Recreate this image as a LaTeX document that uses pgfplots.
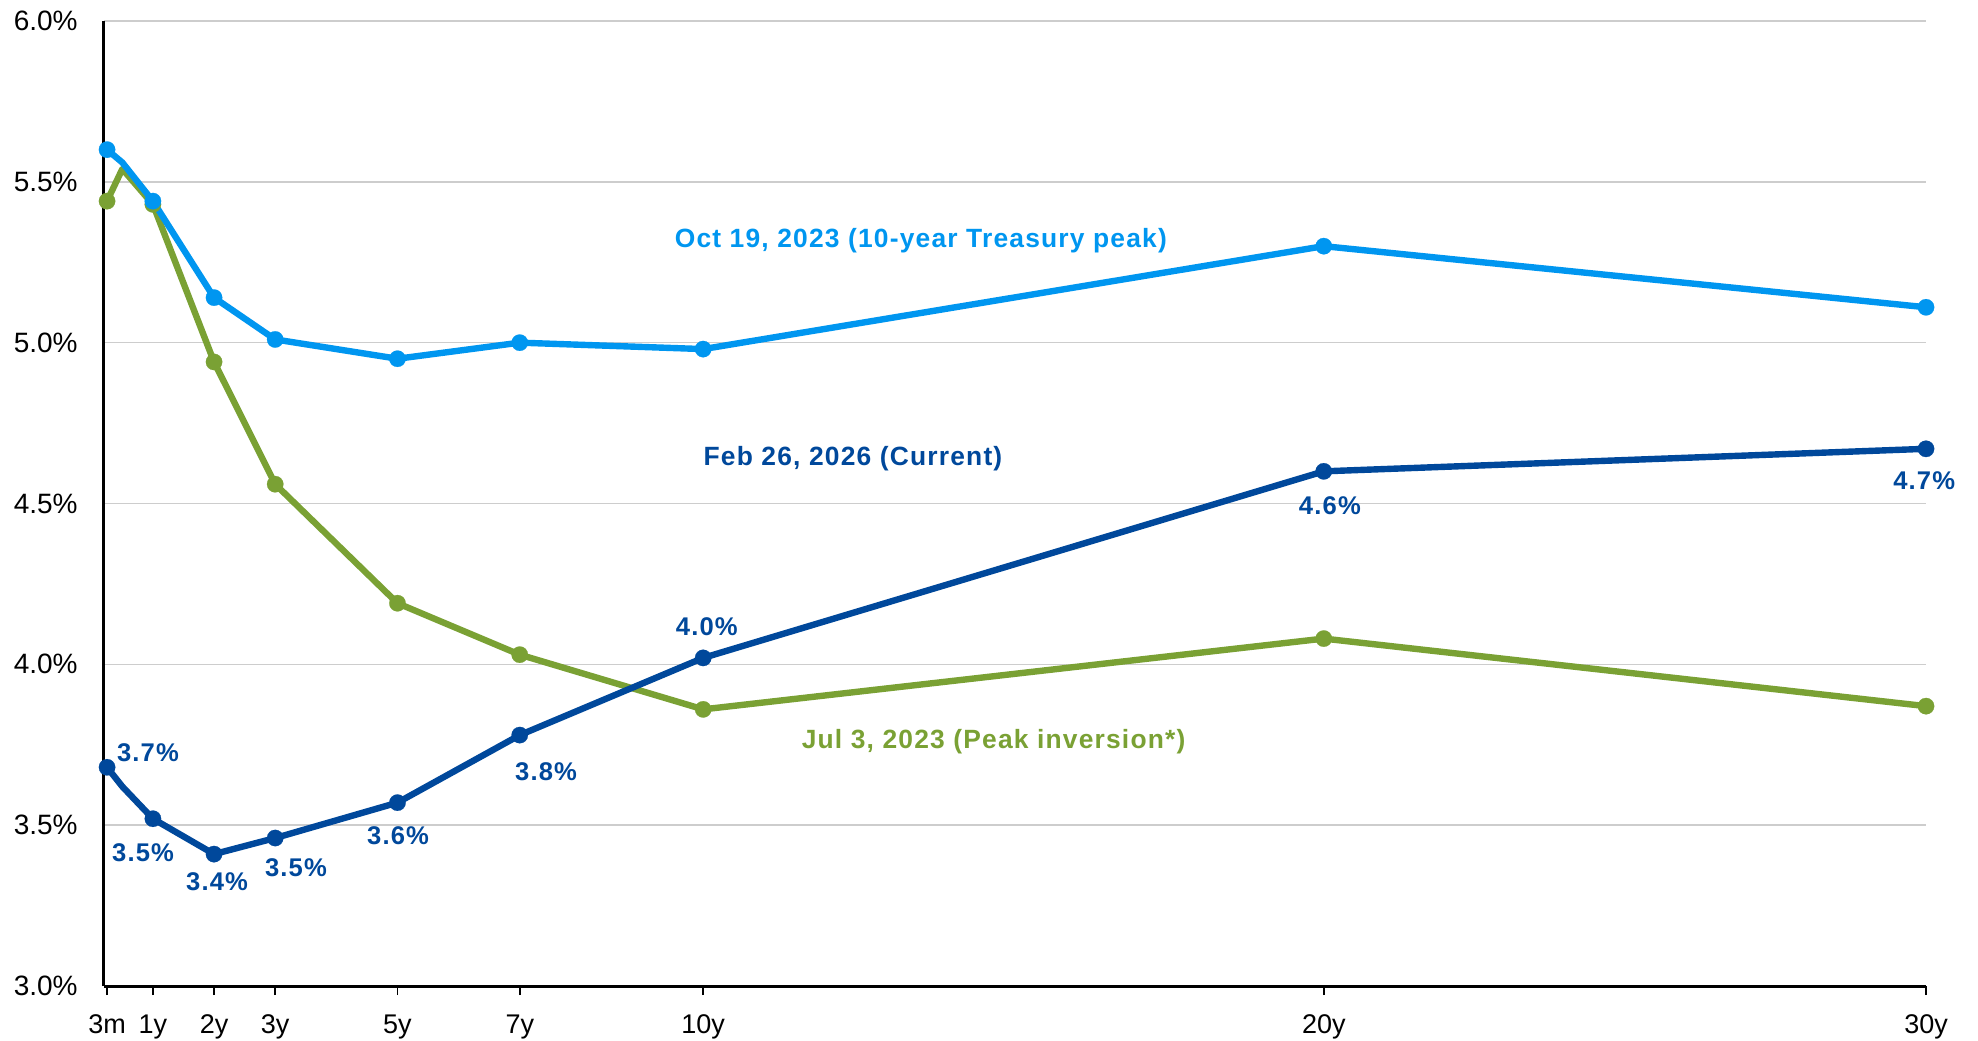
\documentclass[border=0pt]{standalone}
\usepackage{fontspec}
\setmainfont{Liberation Sans}
\newfontfamily\lblfont[LetterSpace=4.5]{Liberation Sans}
\usepackage{pgfplots}
\usepackage{pgfplotstable}
\pgfplotsset{compat=1.18}
\definecolor{ltblue}{RGB}{0,150,240}
\definecolor{dkblue}{RGB}{0,72,155}
\definecolor{grn}{RGB}{122,161,52}
\definecolor{gridgray}{RGB}{205,205,205}

\pgfplotstableread{
mat   oct   jul   feb
0.25  5.60  5.44  3.68
0.5   5.56  5.54  3.62
1     5.44  5.43  3.52
2     5.14  4.94  3.41
3     5.01  4.56  3.46
5     4.95  4.19  3.57
7     5.00  4.03  3.78
10    4.98  3.86  4.02
20.15 5.30  4.08  4.60
30    5.11  3.87  4.67
}\curves

\begin{document}
\begin{tikzpicture}
\begin{axis}[
  scale only axis, width=911bp, height=482.5bp,
  at={(0,0)}, anchor=south west,
  xmin=0.20, xmax=30, ymin=3, ymax=6,
  axis x line=bottom, axis y line=left,
  axis line style={-, line width=1.5bp, black},
  xtick={0.25,1,2,3,5,7,10,20.15,30},
  xticklabels={3m,1y,2y,3y,5y,7y,10y,20y,30y},
  ytick={3,3.5,4,4.5,5,5.5,6},
  yticklabels={3.0\%,3.5\%,4.0\%,4.5\%,5.0\%,5.5\%,6.0\%},
  tick align=outside, major tick length=4.5bp,
  xtick style={black, line width=0.8bp},
  ytick style={draw=none},
  ymajorgrids, grid style={gridgray, line width=0.75bp},
  xticklabel style={font=\fontsize{13.5bp}{15bp}\selectfont, text=black, anchor=base, inner sep=0pt, yshift=-19bp},
  yticklabel style={font=\fontsize{14bp}{16bp}\selectfont, text=black, anchor=east, inner sep=0pt, xshift=-8.5bp},
  clip=false,
  line join=round,
]
% Jul 3, 2023
\addplot[grn, line width=3.2bp, no markers] table[x=mat, y=jul] {\curves};
\addplot[only marks, mark=*, mark size=4.1bp, mark options={fill=grn, draw=grn, line width=0.1bp}, skip coords between index={1}{2}] table[x=mat, y=jul] {\curves};
% Oct 19, 2023
\addplot[ltblue, line width=3.2bp, no markers] table[x=mat, y=oct] {\curves};
\addplot[only marks, mark=*, mark size=4.1bp, mark options={fill=ltblue, draw=ltblue, line width=0.1bp}, skip coords between index={1}{2}] table[x=mat, y=oct] {\curves};
% Feb 26, 2026
\addplot[dkblue, line width=3.2bp, no markers] table[x=mat, y=feb] {\curves};
\addplot[only marks, mark=*, mark size=4.1bp, mark options={fill=dkblue, draw=dkblue, line width=0.1bp}, skip coords between index={1}{2}] table[x=mat, y=feb] {\curves};

% data labels
\begin{scope}[every node/.style={font=\lblfont\bfseries\fontsize{12.8bp}{14bp}\selectfont, text=dkblue, inner sep=0pt}]
\node at (axis cs:0.92,3.724) {3.7\%};
\node at (axis cs:0.839,3.413) {3.5\%};
\node at (axis cs:2.05,3.323) {3.4\%};
\node at (axis cs:3.34,3.367) {3.5\%};
\node at (axis cs:5.01,3.466) {3.6\%};
\node at (axis cs:7.43,3.666) {3.8\%};
\node at (axis cs:10.06,4.117) {4.0\%};
\node at (axis cs:20.25,4.492) {4.6\%};
\node at (axis cs:29.97,4.571) {4.7\%};
\end{scope}

% series labels
\begin{scope}[every node/.style={font=\lblfont\bfseries\fontsize{13.2bp}{15bp}\selectfont, inner sep=0pt}]
\node[text=ltblue] at (axis cs:13.56,5.316) {Oct 19, 2023 (10-year Treasury peak)};
\node[text=dkblue] at (axis cs:12.45,4.638) {Feb 26, 2026 (Current)};
\node[text=grn] at (axis cs:14.75,3.759) {Jul 3, 2023 (Peak inversion*)};
\end{scope}
\end{axis}
\path (-52bp,-27.5bp) rectangle (937bp,493bp);
\end{tikzpicture}
\end{document}
